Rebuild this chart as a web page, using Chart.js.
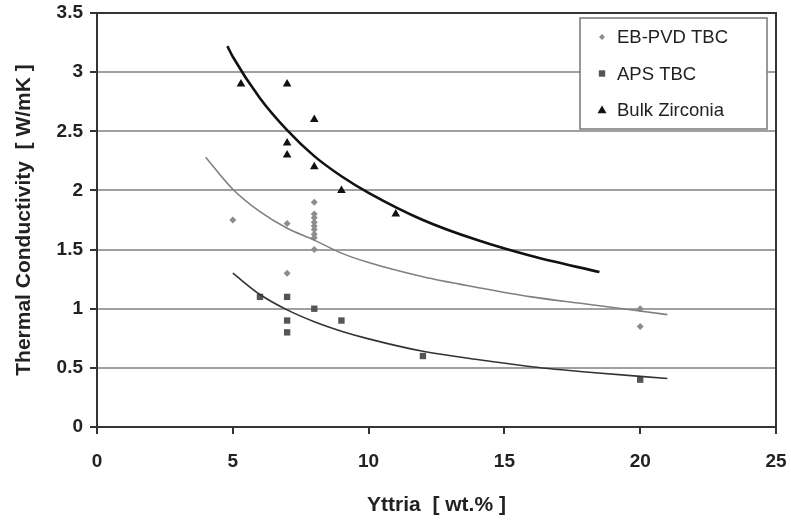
<!DOCTYPE html>
<html>
<head>
<meta charset="utf-8">
<script src="https://cdn.jsdelivr.net/npm/chart.js@4/dist/chart.umd.min.js"></script>
<style>
  body { margin: 0; background: #fff; }
  #wrap { width: 791px; height: 522px; }
</style>
</head>
<body>
<div id="wrap"><canvas id="chart" width="791" height="522"></canvas></div>
<script>
// measured points
const ebpvdX = [5, 7, 7, 8, 8, 8, 8, 8, 8, 8, 8, 8, 20, 20];
const ebpvdY = [1.75, 1.72, 1.3, 1.9, 1.8, 1.77, 1.73, 1.7, 1.67, 1.63, 1.6, 1.5, 1.0, 0.85];
const apsX = [6, 7, 7, 7, 8, 9, 12, 20];
const apsY = [1.1, 1.1, 0.9, 0.8, 1.0, 0.9, 0.6, 0.4];
const bulkX = [5.3, 7, 8, 7, 7, 8, 9, 11];
const bulkY = [2.9, 2.9, 2.6, 2.4, 2.3, 2.2, 2.0, 1.8];

// trend lines
const ebpvdFitX = [4, 5, 6, 7, 8, 9, 10, 12, 14, 16, 18, 21];
const ebpvdFitY = [2.28, 2.01, 1.82, 1.68, 1.58, 1.47, 1.39, 1.27, 1.18, 1.1, 1.04, 0.95];
const apsFitX = [5, 6, 7, 8, 9, 10, 12, 14, 16, 18, 21];
const apsFitY = [1.3, 1.12, 0.99, 0.89, 0.81, 0.745, 0.64, 0.57, 0.51, 0.465, 0.41];
const bulkFitX = [4.8, 5, 6, 7, 8, 9, 10, 12, 14, 16, 18.5];
const bulkFitY = [3.22, 3.13, 2.78, 2.51, 2.29, 2.12, 1.98, 1.75, 1.58, 1.445, 1.31];

const yTicks = [0, 0.5, 1, 1.5, 2, 2.5, 3, 3.5];
const xTicks = [0, 5, 10, 15, 20, 25];

const pts = (xs, ys) => xs.map((x, i) => ({ x: x, y: ys[i] }));

const FONT = 'Liberation Sans, Arial, sans-serif';

const frameAndLegend = {
    id: 'frameAndLegend',
    afterDatasetsDraw(chart) {
        const ctx = chart.ctx;
        const a = chart.chartArea;
        ctx.save();
        ctx.strokeStyle = '#333';
        ctx.lineWidth = 2;
        ctx.strokeRect(a.left, a.top, a.right - a.left, a.bottom - a.top);

        // legend box
        const bx = a.right - 196, by = a.top + 5, bw = 187, bh = 111;
        ctx.fillStyle = '#fff';
        ctx.fillRect(bx, by, bw, bh);
        ctx.strokeStyle = '#777';
        ctx.lineWidth = 1.5;
        ctx.strokeRect(bx, by, bw, bh);

        ctx.font = '18.5px ' + FONT;
        ctx.textBaseline = 'middle';
        const items = chart.data.datasets.filter(d => d.inLegend);
        items.forEach((d, i) => {
            const cy = by + 19 + i * 36.5;
            const cx = bx + 22;
            ctx.fillStyle = d.backgroundColor;
            ctx.beginPath();
            const r = d.pointRadius - 0.5;
            if (d.pointStyle === 'rectRot') {
                ctx.moveTo(cx, cy - r); ctx.lineTo(cx + r, cy); ctx.lineTo(cx, cy + r); ctx.lineTo(cx - r, cy);
            } else if (d.pointStyle === 'rect') {
                ctx.rect(cx - r * 0.8, cy - r * 0.8, r * 1.6, r * 1.6);
            } else {
                ctx.moveTo(cx, cy - r); ctx.lineTo(cx + r, cy + r * 0.7); ctx.lineTo(cx - r, cy + r * 0.7);
            }
            ctx.closePath();
            ctx.fill();
            ctx.fillStyle = '#222';
            ctx.fillText(d.label, bx + 37, cy + 1);
        });
        ctx.restore();
    }
};

new Chart(document.getElementById('chart'), {
    type: 'scatter',
    data: {
        datasets: [
            { label: 'EB-PVD fit', data: pts(ebpvdFitX, ebpvdFitY), showLine: true, borderColor: '#808080', borderWidth: 1.6, pointRadius: 0, tension: 0.4, cubicInterpolationMode: 'monotone' },
            { label: 'APS fit', data: pts(apsFitX, apsFitY), showLine: true, borderColor: '#333', borderWidth: 1.6, pointRadius: 0, tension: 0.4, cubicInterpolationMode: 'monotone' },
            { label: 'Bulk fit', data: pts(bulkFitX, bulkFitY), showLine: true, borderColor: '#111', borderWidth: 2.6, pointRadius: 0, tension: 0.4, cubicInterpolationMode: 'monotone' },
            { label: 'EB-PVD TBC', inLegend: true, data: pts(ebpvdX, ebpvdY), pointStyle: 'rectRot', pointRadius: 3.5, backgroundColor: '#8c8c8c', borderWidth: 0 },
            { label: 'APS TBC', inLegend: true, data: pts(apsX, apsY), pointStyle: 'rect', pointRadius: 4.5, backgroundColor: '#555', borderWidth: 0 },
            { label: 'Bulk Zirconia', inLegend: true, data: pts(bulkX, bulkY), pointStyle: 'triangle', pointRadius: 5, backgroundColor: '#111', borderWidth: 0 }
        ]
    },
    options: {
        responsive: false,
        animation: false,
        layout: { padding: { top: 13, right: 15, left: 0, bottom: 0 } },
        plugins: { legend: { display: false }, tooltip: { enabled: false } },
        scales: {
            x: {
                type: 'linear', min: 0, max: 25,
                afterBuildTicks: s => { s.ticks = xTicks.map(v => ({ value: v })); },
                afterFit: s => { s.height = 95; s.paddingLeft = 0; s.paddingRight = 0; },
                grid: { drawOnChartArea: false, tickLength: 7, tickColor: '#333', lineWidth: 2 },
                border: { color: '#333', width: 2 },
                ticks: { color: '#222', padding: 16, font: { family: FONT, size: 19, weight: 'bold' } },
                title: { display: true, text: 'Yttria  [ wt.% ]', color: '#222', padding: { top: 4, bottom: 4 }, font: { family: FONT, size: 21, weight: 'bold' } }
            },
            y: {
                type: 'linear', min: 0, max: 3.5,
                afterBuildTicks: s => { s.ticks = yTicks.map(v => ({ value: v })); },
                afterFit: s => { s.width = 97; s.paddingTop = 0; s.paddingBottom = 0; },
                grid: { color: '#a0a0a0', lineWidth: 2, tickLength: 7, tickColor: '#333' },
                border: { color: '#333', width: 2 },
                ticks: { color: '#222', padding: 7, callback: v => String(v), font: { family: FONT, size: 19, weight: 'bold' } },
                title: { display: true, text: 'Thermal Conductivity  [ W/mK ]', color: '#222', padding: { top: 12, bottom: 4 }, font: { family: FONT, size: 21, weight: 'bold' } }
            }
        }
    },
    plugins: [frameAndLegend]
});
</script>
</body>
</html>
